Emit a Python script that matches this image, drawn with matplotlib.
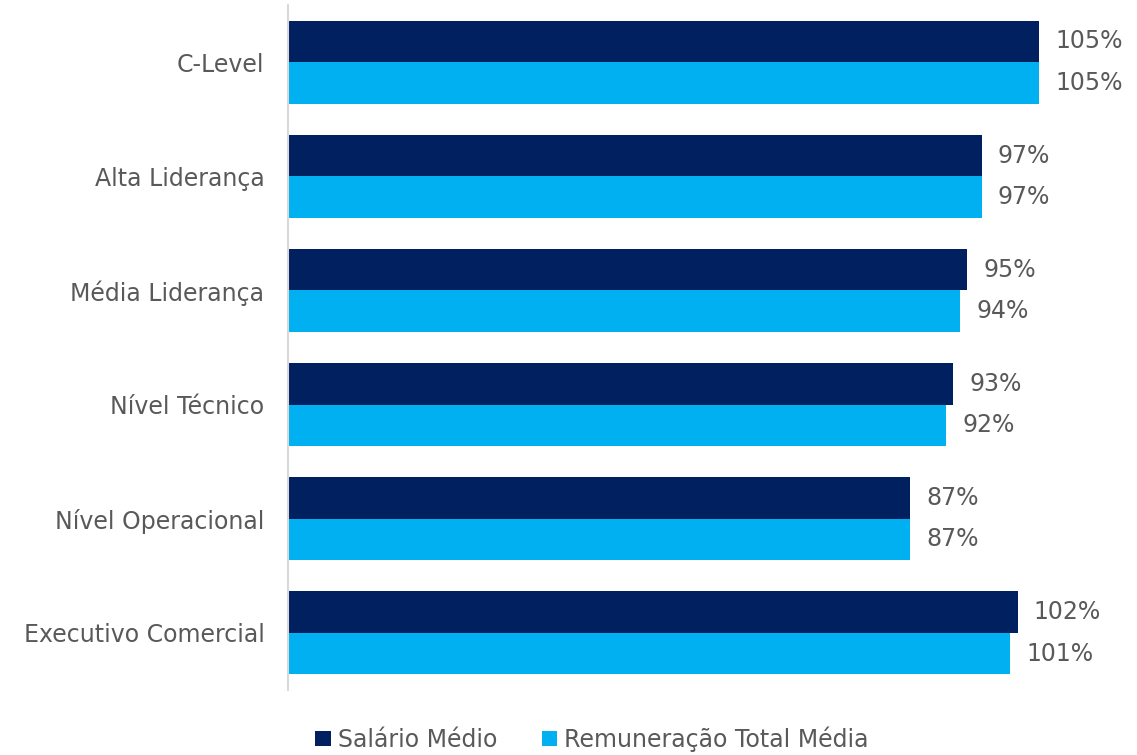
import matplotlib
matplotlib.use("Agg")
import matplotlib.pyplot as plt
import numpy as np

categories = ["C-Level", "Alta Liderança", "Média Liderança", "Nível Técnico",
              "Nível Operacional", "Executivo Comercial"]
salario = [1.05, 0.97, 0.95, 0.93, 0.87, 1.02]
remuneracao = [1.05, 0.97, 0.94, 0.92, 0.87, 1.01]
series_names = ["Salário Médio", "Remuneração Total Média"]
colors = ["#002060", "#00B0F0"]
text_color = "#595959"

plt.rcParams['font.family'] = ['DejaVu Sans']
fs = 17

fig = plt.figure(figsize=(11.37, 7.55), dpi=100)
ax = fig.add_axes([288/1137, (755-690)/755, (1132-288)/1137, 685/755])

y = np.arange(len(categories))
h = 0.363
b1 = ax.barh(y - h/2, salario, height=h, color=colors[0], label=series_names[0])
b2 = ax.barh(y + h/2, remuneracao, height=h, color=colors[1], label=series_names[1])

for bars, vals in ((b1, salario), (b2, remuneracao)):
    for rect, v in zip(bars, vals):
        ax.annotate(f"{round(v*100):d}%", (v, rect.get_y() + rect.get_height()/2),
                    xytext=(11.5, 0), textcoords="offset points", va="center", ha="left",
                    fontsize=fs, color=text_color)

ax.set_ylim(len(categories) - 0.5, -0.5)
ax.set_xlim(0, 1.18)
ax.set_yticks(y)
ax.set_yticklabels(categories, fontsize=fs, color=text_color)
ax.tick_params(axis='y', length=0, pad=17)
ax.set_xticks([])
for s in ["top", "right", "bottom"]:
    ax.spines[s].set_visible(False)
ax.spines["left"].set_color("#d9d9d9")
ax.spines["left"].set_linewidth(1.5)

fig.legend(handles=[b1, b2], labels=series_names, loc="lower center",
           bbox_to_anchor=(592/1137, -0.024), ncol=2, frameon=False,
           handlelength=0.65, handleheight=0.65, handletextpad=0.3, columnspacing=1.9,
           prop={'size': fs}, labelcolor=text_color)

fig.savefig("out.png", dpi=100)
